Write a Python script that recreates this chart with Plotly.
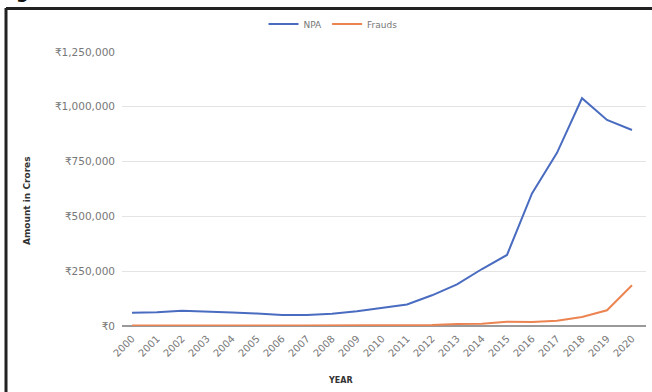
import plotly.graph_objects as go

years = list(range(2000, 2021))
year_labels = [str(y) for y in years]
npa = [60000, 63000, 70000, 67000, 62000, 57000, 50000, 50000, 56000, 67000,
       82000, 98000, 140000, 190000, 260000, 324000, 605000, 790000, 1039000, 940000, 894000]
frauds = [2000, 2500, 2500, 3000, 3000, 2500, 2000, 2000, 2500, 2500,
          3000, 4500, 4500, 8600, 10200, 19400, 18700, 23900, 41200, 71500, 185600]
y_ticks = [0, 250000, 500000, 750000, 1000000, 1250000]
y_tick_labels = ["₹0", "₹250,000", "₹500,000", "₹750,000", "₹1,000,000", "₹1,250,000"]

L, R, T, B = 122, 646, 52, 326
W, H = 652, 392

def px(x):
    return (x - L) / (R - L)

def py(y):
    return (B - y) / (B - T)

fig = go.Figure()
fig.add_trace(go.Scatter(x=years, y=npa, name="NPA", mode="lines",
                         line=dict(color="#4a6cc0", width=2)))
fig.add_trace(go.Scatter(x=years, y=frauds, name="Frauds", mode="lines",
                         line=dict(color="#ec8452", width=2)))

fig.update_layout(
    width=W, height=H,
    margin=dict(l=L, r=W - R, t=T, b=H - B),
    paper_bgcolor="white", plot_bgcolor="white",
    font=dict(family="DejaVu Sans, Arial, sans-serif", color="#666666", size=10),
    showlegend=True,
    legend=dict(orientation="h", x=px(333), xanchor="center", y=py(24), yanchor="middle",
                font=dict(size=9, color="#777777"), itemwidth=30, bgcolor="rgba(0,0,0,0)"),
    xaxis=dict(range=[1999.6, 2020.56], tickmode="array", tickvals=years, ticktext=year_labels,
               tickangle=-45, showgrid=False, zeroline=False, showline=False,
               tickfont=dict(size=10, color="#777777"), ticks="", ticklabelstandoff=4),
    yaxis=dict(range=[0, 1250000], tickmode="array", tickvals=y_ticks, ticktext=y_tick_labels,
               showgrid=True, gridcolor="#e4e4e4", gridwidth=1, zeroline=True,
               zerolinecolor="#999999", zerolinewidth=1.5,
               tickfont=dict(size=10.5, color="#777777"), ticks="", ticklabelstandoff=6),
    annotations=[
        dict(text="<b>Amount in Crores</b>", x=px(20), y=py(201), xref="paper", yref="paper",
             textangle=-90, showarrow=False, font=dict(size=9, color="#333333")),
        dict(text="<b>YEAR</b>", x=px(340), y=py(387), xref="paper", yref="paper",
             yanchor="bottom", showarrow=False, font=dict(size=8, color="#333333")),
        dict(text="<b>g</b>", x=px(14), y=py(4), xref="paper", yref="paper",
             xanchor="left", yanchor="bottom", showarrow=False,
             font=dict(size=18, color="#111111")),
    ],
    shapes=[
        dict(type="line", xref="paper", yref="paper", x0=px(6), x1=px(660), y0=py(8.5), y1=py(8.5),
             line=dict(color="#222222", width=3)),
        dict(type="line", xref="paper", yref="paper", x0=px(6), x1=px(6), y0=py(8), y1=py(400),
             line=dict(color="#222222", width=3)),
    ],
)

fig.write_html("out.html", config={"displayModeBar": False},
               post_script="document.body.style.margin='0';document.body.style.overflow='hidden';")
